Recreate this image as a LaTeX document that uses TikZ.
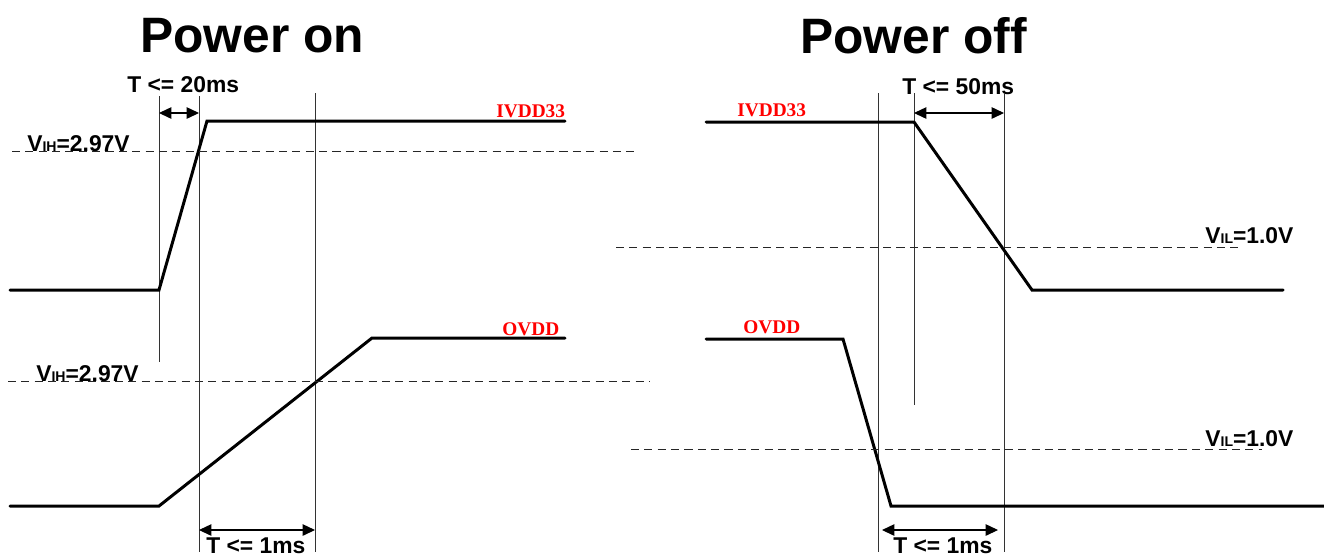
\documentclass[tikz,border=0pt]{standalone}
\usepackage{fontspec}
\setmainfont{Liberation Sans}
\newfontfamily\serifred{Liberation Serif}
\usetikzlibrary{arrows.meta}
\tikzset{
  sig/.style={line width=1.7pt, line join=miter, line cap=round},
  guide/.style={line width=0.55pt, black!80},
  thresh/.style={line width=0.55pt, dash pattern=on 4.6pt off 3pt, black!85},
  span/.style={line width=0.6pt, {Triangle[length=7pt,width=6.5pt]}-{Triangle[length=7pt,width=6.5pt]}},
  lbl/.style={inner sep=0pt, anchor=base west, font=\bfseries\fontsize{13}{14}\selectfont},
  ttl/.style={inner sep=0pt, anchor=base west, font=\bfseries\fontsize{28.3}{30}\selectfont},
  sname/.style={inner sep=0pt, anchor=base west, text=red, font=\serifred\bfseries\fontsize{11}{12}\selectfont}
}
\newcommand{\vsub}[1]{V\raisebox{-0.5pt}{\fontsize{8}{8}\selectfont #1}}
\begin{document}
\begin{tikzpicture}[x=0.02cm,y=-0.02cm]
\useasboundingbox (0,0) rectangle (1324,556);
% ---------- Power on ----------
\node[ttl] (t1) at (140,52) {Power on};
\node[lbl] (l20) at (127,92) {T <= 20ms};
\coordinate (a1) at (159,96);  \coordinate (a2) at (159,362);
\coordinate (b1) at (199,96);  \coordinate (b2) at (199,552);
\coordinate (c1) at (315,93);  \coordinate (c2) at (315,552);
\draw[guide] (a1) -- (a2);
\draw[guide] (b1) -- (b2);
\draw[guide] (c1) -- (c2);
\coordinate (ar1) at (159,113); \coordinate (ar2) at (199,113);
\draw[span] (ar1) -- (ar2);
% IVDD33 rise
\coordinate (p1) at (10,290); \coordinate (p2) at (159,290);
\coordinate (p3) at (207,121); \coordinate (p4) at (565,121);
\draw[sig] (p1) -- (p2) -- (p3) -- (p4);
\node[sname] (n1) at (496,117) {IVDD33};
\coordinate (d1) at (12,151); \coordinate (d2) at (636,151);
\draw[thresh] (d1) -- (d2);
\node[lbl] (v1) at (27,151) {\vsub{IH}=2.97V};
% OVDD rise
\coordinate (q1) at (10,506); \coordinate (q2) at (159,506);
\coordinate (q3) at (372,338); \coordinate (q4) at (565,338);
\draw[sig] (q1) -- (q2) -- (q3) -- (q4);
\node[sname] (n2) at (502,335) {OVDD};
\coordinate (e1) at (8,381); \coordinate (e2) at (650,381);
\draw[thresh] (e1) -- (e2);
\node[lbl] (v2) at (36,381) {\vsub{IH}=2.97V};
\coordinate (br1) at (199,530); \coordinate (br2) at (315,530);
\draw[span] (br1) -- (br2);
\node[lbl] (l1a) at (206,553) {T <= 1ms};
% ---------- Power off ----------
\node[ttl] (t2) at (800,53) {Power off};
\node[lbl] (l50) at (902,94) {T <= 50ms};
\coordinate (f1) at (878,93);  \coordinate (f2) at (878,552);
\coordinate (g1) at (914,93);  \coordinate (g2) at (914,405);
\coordinate (h1) at (1004,93); \coordinate (h2) at (1004,552);
\draw[guide] (f1) -- (f2);
\draw[guide] (g1) -- (g2);
\draw[guide] (h1) -- (h2);
\coordinate (cr1) at (914,113); \coordinate (cr2) at (1004,113);
\draw[span] (cr1) -- (cr2);
% IVDD33 fall
\coordinate (r1) at (706,122); \coordinate (r2) at (914,122);
\coordinate (r3) at (1032,290); \coordinate (r4) at (1283,290);
\draw[sig] (r1) -- (r2) -- (r3) -- (r4);
\node[sname] (n3) at (737,116) {IVDD33};
\coordinate (k1) at (616,247); \coordinate (k2) at (1240,247);
\draw[thresh] (k1) -- (k2);
\node[lbl] (v3) at (1205,243) {\vsub{IL}=1.0V};
% OVDD fall
\coordinate (s1) at (706,339); \coordinate (s2) at (843,339);
\coordinate (s3) at (891,506); \coordinate (s4) at (1324,506);
\draw[sig] (s1) -- (s2) -- (s3) -- (s4);
\node[sname] (n4) at (743,333) {OVDD};
\coordinate (m1) at (631,449); \coordinate (m2) at (1262,449);
\draw[thresh] (m1) -- (m2);
\node[lbl] (v4) at (1205,446) {\vsub{IL}=1.0V};
\coordinate (dr1) at (882,530); \coordinate (dr2) at (998,530);
\draw[span] (dr1) -- (dr2);
\node[lbl] (l1b) at (893,553) {T <= 1ms};
\end{tikzpicture}
\end{document}
